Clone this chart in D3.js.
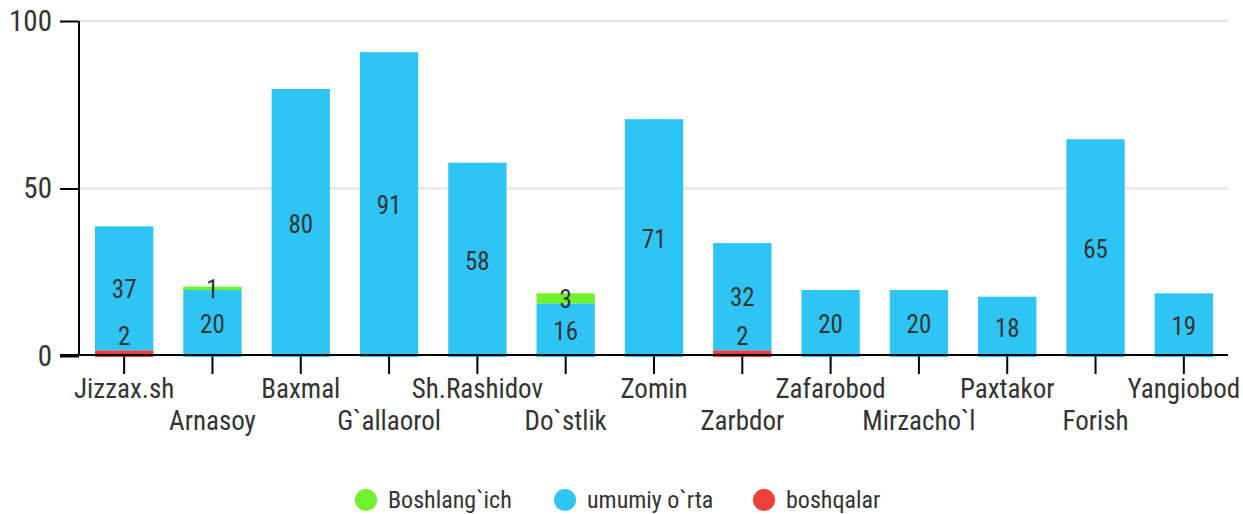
<!DOCTYPE html>
<html>
<head>
<meta charset="utf-8">
<script src="https://cdn.jsdelivr.net/npm/d3@7"></script>
<style>
  body { margin: 0; background: #fff; }
  text { font-family: "Roboto Condensed", "Liberation Sans Narrow", "Roboto", sans-serif; fill: #333; }
</style>
</head>
<body>
<div id="chart"></div>
<script>
// Data
const categories = ["Jizzax.sh", "Arnasoy", "Baxmal", "G`allaorol", "Sh.Rashidov", "Do`stlik", "Zomin",
  "Zarbdor", "Zafarobod", "Mirzacho`l", "Paxtakor", "Forish", "Yangiobod"];
const boshqalar = [2, 0, 0, 0, 0, 0, 0, 2, 0, 0, 0, 0, 0];
const umumiy = [37, 20, 80, 91, 58, 16, 71, 32, 20, 20, 18, 65, 19];
const boshlangich = [0, 1, 0, 0, 0, 3, 0, 0, 0, 0, 0, 0, 0];
const yTicks = [0, 50, 100];

const seriesNames = ["boshqalar", "umumiy o`rta", "Boshlang`ich"];
const legendOrder = ["Boshlang`ich", "umumiy o`rta", "boshqalar"];
const colors = {"Boshlang`ich": "#6ff22a", "umumiy o`rta": "#2ec5f5", "boshqalar": "#ec3f39"};

const W = 1243, H = 514;
const margin = {top: 21, right: 15, bottom: 158, left: 80};

const svg = d3.select("#chart").append("svg")
  .attr("width", W).attr("height", H);

const table = categories.map((c, i) => ({
  cat: c,
  "boshqalar": boshqalar[i],
  "umumiy o`rta": umumiy[i],
  "Boshlang`ich": boshlangich[i]
}));

const x = d3.scaleBand()
  .domain(categories)
  .range([margin.left, W - margin.right]);

const y = d3.scaleLinear()
  .domain([0, 100])
  .range([H - margin.bottom, margin.top]);

// grid lines
svg.append("g")
  .selectAll("line")
  .data(yTicks.filter(d => d > 0))
  .join("line")
    .attr("x1", margin.left).attr("x2", W - margin.right)
    .attr("y1", d => y(d)).attr("y2", d => y(d))
    .attr("stroke", "#e3e3e3").attr("stroke-width", 2);

// stacked bars
const stack = d3.stack().keys(seriesNames)(table);
const barW = x.bandwidth() * 0.66;

const layers = svg.append("g")
  .selectAll("g")
  .data(stack)
  .join("g")
    .attr("fill", d => colors[d.key]);

layers.selectAll("rect")
  .data(d => d)
  .join("rect")
    .attr("x", d => x(d.data.cat) + (x.bandwidth() - barW) / 2)
    .attr("y", d => y(d[1]) + 1)
    .attr("width", barW)
    .attr("height", d => y(d[0]) - y(d[1]));

// value labels
const labels = [];
stack.forEach(layer => {
  layer.forEach(d => {
    const v = d[1] - d[0];
    if (v <= 0) return;
    let cy = (y(d[0]) + y(d[1])) / 2 + 2;
    // small red segment: label sits just above it
    if (layer.key === "boshqalar") cy = y(d[1]) - 13;
    labels.push({cat: d.data.cat, v: v, cy: cy});
  });
});

svg.append("g")
  .selectAll("text")
  .data(labels)
  .join("text")
    .attr("x", d => x(d.cat) + x.bandwidth() / 2)
    .attr("y", d => d.cy)
    .attr("dy", "0.35em")
    .attr("text-anchor", "middle")
    .style("font-size", "25px")
    .text(d => d.v);

// y axis
const yAxis = svg.append("g")
  .attr("transform", `translate(${margin.left - 1},0)`)
  .call(d3.axisLeft(y).tickValues(yTicks).tickSize(19).tickPadding(8));
yAxis.select(".domain").attr("stroke", "#000").attr("stroke-width", 2)
  .attr("d", `M0,${y(100)}V${y(0)}`);
yAxis.selectAll(".tick line").attr("stroke", "#000").attr("stroke-width", 2);
yAxis.selectAll(".tick text").style("font-size", "29px").attr("fill", "#333");

// x axis
const xAxis = svg.append("g")
  .attr("transform", `translate(0,${y(0) - 1})`)
  .call(d3.axisBottom(x).tickSize(19));
xAxis.select(".domain").attr("stroke", "#000").attr("stroke-width", 2)
  .attr("d", `M60,0H${W - margin.right}`);
xAxis.selectAll(".tick line").attr("stroke", "#000").attr("stroke-width", 2);
xAxis.selectAll(".tick text")
  .style("font-size", "27px")
  .attr("fill", "#333")
  .attr("y", (d, i) => i % 2 ? 75 : 43)
  .attr("dy", 0);

// legend
const legend = svg.append("g")
  .selectAll("g")
  .data(legendOrder)
  .join("g")
    .attr("transform", (d, i) => `translate(${366 + i * 199},500)`);
legend.append("circle")
  .attr("r", 11)
  .attr("fill", d => colors[d]);
legend.append("text")
  .attr("x", 22)
  .attr("dy", "0.35em")
  .style("font-size", "24px")
  .text(d => d);
</script>
</body>
</html>
